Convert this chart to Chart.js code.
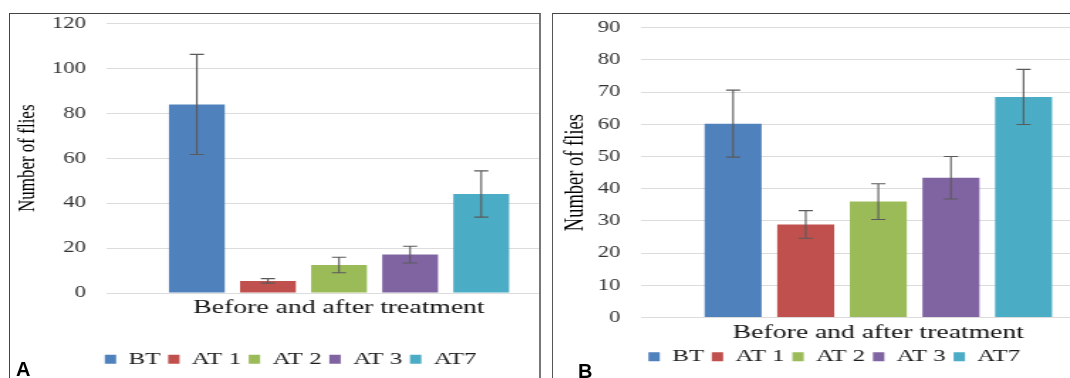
<!DOCTYPE html>
<html>
<head>
<meta charset="utf-8">
<title>Number of flies before and after treatment</title>
<script src="https://cdn.jsdelivr.net/npm/chart.js@4/dist/chart.umd.min.js"></script>
<style>
  html, body { margin: 0; padding: 0; width: 1070px; height: 378px; overflow: hidden; background: #fff; }
  .panel { position: absolute; overflow: hidden; background: #fff; }
  #panelA { left: 9px; top: 13px; width: 529px; height: 380px;
            border-left: 1px solid #444; border-top: 1px solid #444; border-right: 2px solid #777; }
  #panelB { left: 552px; top: 13px; width: 530px; height: 380px;
            border-left: 1px solid #555; border-top: 1px solid #444; }
  /* the source figure is stretched sideways, so the canvas is too */
  canvas.stretch { position: absolute; left: 0; top: 0; transform: scaleX(1.42); transform-origin: 0 0; }
  .tag { position: absolute; font: bold 20px "Liberation Sans", Arial, sans-serif; line-height: 20px; color: #000; }
</style>
</head>
<body>
<div class="panel" id="panelA"><canvas id="chartA" class="stretch" width="400" height="364"></canvas></div>
<div class="panel" id="panelB"><canvas id="chartB" class="stretch" width="400" height="364"></canvas></div>
<div class="tag" style="left:16px; top:359px;">A</div>
<div class="tag" style="left:578px; top:361px;">B</div>
<script>
// data
const category = ['Before and after treatment'];
const groups = ['BT', 'AT 1', 'AT 2', 'AT 3', 'AT7'];
const fliesA = [84, 5.4, 12.5, 17.1, 44.1];
const errA = [22.3, 1.0, 3.45, 3.75, 10.3];
const fliesB = [60.2, 28.9, 36.0, 43.4, 68.5];
const errB = [10.4, 4.3, 5.55, 6.6, 8.55];
const yMaxA = 120, yStepA = 20;
const yMaxB = 90, yStepB = 10;

const colors = ['#4F81BD', '#C0504D', '#9BBB59', '#8064A2', '#4BACC6'];
const serif = "'Liberation Serif', 'Times New Roman', serif";

// draws +/- error whiskers on every bar
const errorBars = {
  id: 'errorBars',
  afterDatasetsDraw(chart) {
    const ctx = chart.ctx;
    const y = chart.scales.y;
    ctx.save();
    ctx.strokeStyle = '#5a5a5a';
    ctx.lineWidth = 1.1;
    chart.data.datasets.forEach((ds, i) => {
      chart.getDatasetMeta(i).data.forEach((bar, j) => {
        const top = y.getPixelForValue(ds.data[j] + ds.errors[j]);
        const bot = y.getPixelForValue(ds.data[j] - ds.errors[j]);
        ctx.beginPath();
        ctx.moveTo(bar.x, top); ctx.lineTo(bar.x, bot);
        ctx.moveTo(bar.x - 5, top); ctx.lineTo(bar.x + 5, top);
        ctx.moveTo(bar.x - 5, bot); ctx.lineTo(bar.x + 5, bot);
        ctx.stroke();
      });
    });
    ctx.restore();
  }
};

function makeChart(id, values, errors, yMax, yStep, o) {
  const datasets = groups.map((g, i) => ({
    label: g,
    data: [values[i]],
    errors: [errors[i]],
    backgroundColor: colors[i],
    borderWidth: 0,
    categoryPercentage: 0.765,
    barPercentage: 0.785
  }));

  return new Chart(document.getElementById(id).getContext('2d'), {
    type: 'bar',
    data: { labels: category, datasets: datasets },
    plugins: [errorBars],
    options: {
      responsive: false,
      animation: false,
      layout: { padding: o.padding },
      plugins: {
        tooltip: { enabled: false },
        legend: {
          position: 'bottom',
          labels: {
            font: { family: serif, size: 17.5 },
            color: '#1a1a1a',
            boxWidth: 8,
            boxHeight: 9,
            padding: 5.5
          }
        }
      },
      scales: {
        x: {
          // invisible tick marks give the gap under the axis
          grid: { display: true, drawOnChartArea: false, drawTicks: true, tickLength: 5.5,
                  color: 'transparent', tickColor: 'transparent' },
          border: { display: false },
          ticks: {
            font: { family: serif, size: 19.5, lineHeight: 1 },
            color: '#111',
            padding: 0,
            maxRotation: 0
          },
          afterFit: (scale) => { scale.height += o.xExtra; }
        },
        y: {
          min: 0,
          max: yMax,
          ticks: {
            stepSize: yStep,
            font: { family: serif, size: 16 },
            color: '#333',
            padding: 0
          },
          grid: { color: '#dcdcdc', lineWidth: 1, drawTicks: true, tickLength: 14.5,
                  tickColor: 'transparent' },
          border: { display: false },
          title: {
            display: true,
            text: 'Number of flies',
            font: { family: serif, size: o.titleSize },
            color: '#000',
            padding: o.titlePad
          }
        }
      }
    }
  });
}

makeChart('chartA', fliesA, errA, yMaxA, yStepA, {
  padding: { top: 0, right: 4.7, bottom: 0, left: 0 },
  xExtra: 27,
  titleSize: 17,
  titlePad: { top: 2.5, bottom: 6.7 }
});

makeChart('chartB', fliesB, errB, yMaxB, yStepB, {
  padding: { top: 13.7, right: 3.8, bottom: 2.5, left: 0 },
  xExtra: 0,
  titleSize: 18.5,
  titlePad: { top: 4.8, bottom: 4.5 }
});
</script>
</body>
</html>
